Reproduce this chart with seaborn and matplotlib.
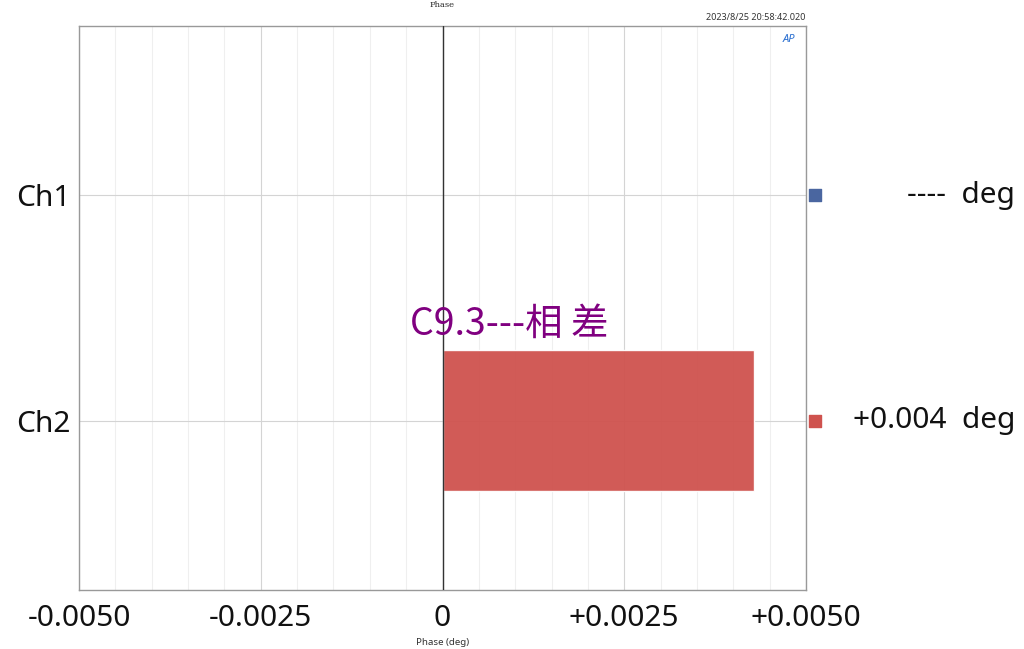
import numpy as np
import pandas as pd
import matplotlib
matplotlib.use('Agg')
import matplotlib.pyplot as plt
import matplotlib.transforms as mtransforms
from matplotlib.ticker import MultipleLocator, FixedLocator
import seaborn as sns

# ---------------- data ----------------
channels = ['Ch1', 'Ch2']
phase_deg = [np.nan, 0.00429]
bar_colors = ['#4a66a0', '#cf524e']
xticks = [-0.005, -0.0025, 0.0, 0.0025, 0.005]
xtick_labels = ['-0.0050', '-0.0025', '0', '+0.0025', '+0.0050']

sns.set_theme(style='white')
plt.rcParams['font.family'] = ['Noto Sans', 'Noto Sans CJK SC', 'DejaVu Sans']

df = pd.DataFrame({'ch': channels, 'phase': phase_deg})

fig = plt.figure(figsize=(10.24, 6.49), dpi=100)
ax = fig.add_axes([79 / 1024, 1 - 590 / 649, 727 / 1024, 564 / 649])

sns.barplot(data=df, x='phase', y='ch', hue='ch', palette=bar_colors, orient='h',
            width=0.625, alpha=0.95, legend=False, ax=ax, saturation=1, zorder=3)

ax.set_xlim(-0.005, 0.005)
ax.set_ylim(1.75, -0.75)
ax.xaxis.set_major_locator(FixedLocator(xticks))
ax.set_xticklabels(xtick_labels, fontsize=21.5, color='#111111')
ax.xaxis.set_minor_locator(MultipleLocator(0.0005))
ax.tick_params(axis='y', labelsize=21.5, length=0, pad=6, labelcolor='#111111')
ax.tick_params(axis='x', length=0, pad=10, which='both')
ax.grid(True, which='major', color='#d4d4d4', lw=0.8, zorder=0)
ax.grid(True, which='minor', axis='x', color='#efefef', lw=0.8, zorder=0)
ax.axvline(0, color='#333333', lw=1.0, zorder=4)
for s in ax.spines.values():
    s.set_color('#999999')
    s.set_linewidth(1.0)

ax.set_ylabel('')
ax.set_xlabel('Phase (deg)', fontsize=7, color='#333333', labelpad=4)

# title and timestamp
fig.text(442 / 1024, 1 - 5 / 649, 'Phase', fontsize=6, family='DejaVu Serif', ha='center', va='center')
fig.text(805 / 1024, 1 - 18 / 649, '2023/8/25 20:58:42.020', fontsize=6.5, ha='right', va='center', color='#333333')
fig.text(789 / 1024, 1 - 40 / 649, 'AP', fontsize=8, ha='center', va='center', color='#2a6fd0',
         fontweight='bold', style='italic')

# right-hand readouts
trans = mtransforms.blended_transform_factory(ax.transAxes, ax.transData)
for i, (v, c) in enumerate(zip(phase_deg, bar_colors)):
    ax.scatter([1.0125], [i], marker='s', s=70, color=c, transform=trans, clip_on=False, zorder=5)
    txt = '----  deg' if np.isnan(v) else f'{v:+.3f}  deg'
    ax.text(1.2875, i, txt, transform=trans, ha='right', va='center', fontsize=21.5, color='#111111')

# annotation
ax.text(-0.00045, 0.57, 'C9.3---相 差', fontsize=27, color='#800080',
        ha='left', va='center', family=['Noto Sans CJK SC', 'DejaVu Sans'], zorder=6)

plt.savefig('out.png', dpi=100)
plt.close()
